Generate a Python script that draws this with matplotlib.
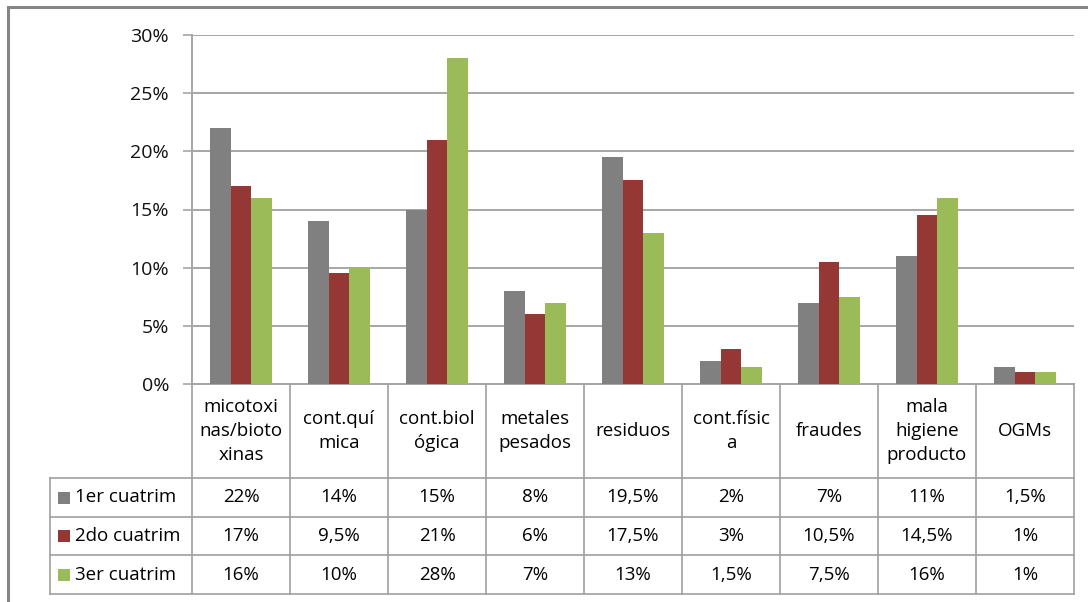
import matplotlib
matplotlib.use("Agg")
import matplotlib.pyplot as plt
from matplotlib.transforms import blended_transform_factory
from matplotlib.patches import Rectangle
from matplotlib.lines import Line2D

categories = ["micotoxi\nnas/bioto\nxinas", "cont.quí\nmica", "cont.biol\nógica", "metales\npesados",
              "residuos", "cont.físic\na", "fraudes", "mala\nhigiene\nproducto", "OGMs"]
series_names = ["1er cuatrim", "2do cuatrim", "3er cuatrim"]
s1 = [22, 14, 15, 8, 19.5, 2, 7, 11, 1.5]
s2 = [17, 9.5, 21, 6, 17.5, 3, 10.5, 14.5, 1]
s3 = [16, 10, 28, 7, 13, 1.5, 7.5, 16, 1]
yticks = [0, 5, 10, 15, 20, 25, 30]

colors = ["#808080", "#953735", "#9BBB59"]
series = [s1, s2, s3]

plt.rcParams['font.family'] = ['Open Sans', 'DejaVu Sans']

W, H = 1088, 602
fig = plt.figure(figsize=(W / 100, H / 100), dpi=100)
fig.patch.set_facecolor("white")

def fx(px):
    return px / W

def fy(py):
    return 1 - py / H

ax_left, ax_right, ax_top, ax_bot = 192, 1074, 35, 384
ax = fig.add_axes([fx(ax_left), fy(ax_bot), (ax_right - ax_left) / W, (ax_bot - ax_top) / H])

n = len(categories)
bw = 0.214
for k, (vals, c) in enumerate(zip(series, colors)):
    xs = [i + (k - 1) * bw for i in range(n)]
    ax.bar(xs, vals, width=bw, color=c, zorder=3, linewidth=0)

ax.set_xlim(-0.5, n - 0.5)
ax.set_ylim(0, 30)
ax.set_yticks(yticks)
ax.set_yticklabels([f"{t}%" for t in yticks], fontsize=14, color="#111111")
ax.set_xticks([])
ax.yaxis.grid(True, color="#a6a6a6", linewidth=1.4, zorder=0)
ax.tick_params(axis='y', length=6.5, width=1.2, color="#a6a6a6", pad=10)
for side in ["top", "right"]:
    ax.spines[side].set_visible(False)
ax.spines["left"].set_color("#a6a6a6")
ax.spines["left"].set_linewidth(1.4)
ax.spines["bottom"].set_color("#a6a6a6")
ax.spines["bottom"].set_linewidth(1.4)

# data table
tr = blended_transform_factory(ax.transData, fig.transFigure)
lc = "#a0a0a0"
lw = 1.2
hdr_top, hdr_bot = 384, 478
row_edges = [478, 517, 555, 594]
leg_left = 50

for py in row_edges:
    fig.add_artist(Line2D([fx(leg_left), fx(ax_right)], [fy(py), fy(py)], color=lc, lw=lw))
for i in range(n + 1):
    x = i - 0.5
    fig.add_artist(Line2D([x, x], [fy(hdr_top), fy(row_edges[-1])], color=lc, lw=lw, transform=tr))
fig.add_artist(Line2D([fx(leg_left), fx(leg_left)], [fy(row_edges[0]), fy(row_edges[-1])], color=lc, lw=lw))

fs = 13.5
for i, cat in enumerate(categories):
    fig.text(i, fy((hdr_top + hdr_bot) / 2), cat, transform=tr, ha="center", va="center",
             fontsize=fs, linespacing=1.4, color="#000000")

def fmt(v):
    s = f"{v:g}".replace(".", ",")
    return s + "%"

for r, (vals, name, c) in enumerate(zip(series, series_names, colors)):
    yc = fy((row_edges[r] + row_edges[r + 1]) / 2)
    fig.add_artist(Rectangle((fx(58), yc - 6 / H), 12 / W, 12 / H, facecolor=c, edgecolor="none"))
    fig.text(fx(75), yc, name, ha="left", va="center", fontsize=fs, color="#000000")
    for i, v in enumerate(vals):
        fig.text(i, yc, fmt(v), transform=tr, ha="center", va="center", fontsize=fs, color="#000000")

fig.add_artist(Rectangle((fx(8), fy(H + 5)), (W + 10) / W, (H - 7 + 5) / H, facecolor="none",
                         edgecolor="#868686", linewidth=2.2))

fig.savefig("out.png", dpi=100)
